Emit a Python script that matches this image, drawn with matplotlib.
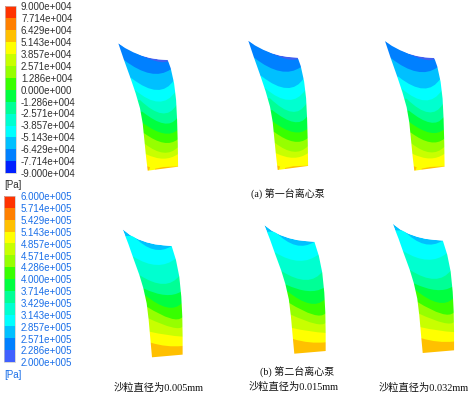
import matplotlib
matplotlib.use('Agg')
import matplotlib.pyplot as plt
from matplotlib.patches import PathPatch, Polygon, Rectangle
from matplotlib.path import Path
import numpy as np

# legend values, top to bottom
labels_a = ['9.000e+004', '7.714e+004', '6.429e+004', '5.143e+004', '3.857e+004',
            '2.571e+004', '1.286e+004', '0.000e+000', '-1.286e+004', '-2.571e+004',
            '-3.857e+004', '-5.143e+004', '-6.429e+004', '-7.714e+004', '-9.000e+004']
labels_b = ['6.000e+005', '5.714e+005', '5.429e+005', '5.143e+005', '4.857e+005',
            '4.571e+005', '4.286e+005', '4.000e+005', '3.714e+005', '3.429e+005',
            '3.143e+005', '2.857e+005', '2.571e+005', '2.286e+005', '2.000e+005']
colors_a = ['#ff3300', '#ff8000', '#ffc000', '#ffff00', '#c8ff00', '#96ff00', '#38ff00',
            '#00ff40', '#00ff96', '#00ffd0', '#00ffff', '#00c0ff', '#0080ff', '#0020ff']
colors_b = colors_a[:-1] + ['#4060ff']

# blade outlines, in zoomed crop pixels
a_outline = [(55, 40), (75, 54), (100, 67), (125, 77), (150, 84), (175, 88), (203, 90),
             (212, 115), (222, 160), (228, 210), (231, 270), (233, 340), (234, 410),
             (143, 422), (138, 380), (133, 330), (128, 280), (120, 235), (107, 190),
             (90, 140), (72, 90)]
b_outline = [(68, 28), (90, 45), (115, 58), (140, 67), (165, 73), (190, 76), (215, 78),
             (228, 120), (238, 170), (244, 230), (247, 290), (248, 350), (248, 404),
             (156, 412), (152, 368), (146, 300), (140, 250), (130, 205), (118, 165),
             (100, 115), (85, 72)]

# band boundaries: (left, middle, right) on the blade, top to bottom
a_bounds = [((55, 40), (150, 88), (203, 94)),
            ((72, 90), (150, 130), (212, 118)),
            ((95, 145), (170, 180), (222, 150)),
            ((105, 180), (175, 215), (226, 185)),
            ((120, 210), (185, 250), (229, 225)),
            ((127, 245), (190, 280), (230, 265)),
            ((130, 280), (190, 310), (232, 300)),
            ((133, 310), (190, 338), (233, 328)),
            ((135, 342), (190, 368), (233, 352)),
            ((137, 372), (190, 386), (234, 372))]
a_band_colors = ['#4060f0', '#0080ff', '#00c0ff', '#00ffff', '#00ffd0', '#00ff96',
                 '#00ff40', '#38ff00', '#96ff00', '#c8ff00', '#ffff00']
a_spots = [[(140, 408), (150, 412), (146, 423), (140, 423)],
           [(165, 416), (190, 411), (236, 409), (236, 413), (165, 420)]]

b_bounds = [((100, 48), (160, 88), (215, 78)),
            ((100, 110), (170, 135), (228, 115)),
            ((118, 165), (190, 192), (240, 165)),
            ((130, 205), (195, 225), (243, 215)),
            ((135, 225), (200, 262), (245, 250)),
            ((140, 260), (210, 295), (247, 292)),
            ((145, 295), (215, 322), (248, 320)),
            ((148, 335), (200, 345), (248, 350)),
            ((152, 368), (200, 378), (248, 378))]
b_band_colors = ['#00c0ff', '#00ffff', '#00ffd0', '#00ff96', '#00ff40', '#38ff00',
                 '#96ff00', '#c8ff00', '#ffff00', '#ffc000']

# where each blade sits: (tip, bottom left corner)
a_places = [((118.3, 43.3), (147.7, 170.7)), ((248.3, 40.7), (277.7, 170.0)),
            ((385.0, 41.0), (414.3, 170.7))]
b_places = [((122.7, 229.3), (152.0, 357.3)), ((264.3, 225.0), (294.3, 353.7)),
            ((392.7, 223.7), (422.7, 353.0))]

sizes = ['沙粒直径为0.005mm', '沙粒直径为0.015mm', '沙粒直径为0.032mm']
serif = ['Liberation Serif', 'Noto Sans CJK SC']


def draw_blade(ax, outline, bounds, band_colors, place, spots=()):
    tip, corner = place
    outline = np.array(outline, float)
    start = outline[0]
    low_pt = outline[np.argmax(outline[:, 1])]
    sx = (corner[0] - tip[0]) / (low_pt[0] - start[0])
    sy = (corner[1] - tip[1]) / (low_pt[1] - start[1])

    def tr(pts):
        pts = np.array(pts, float)
        return (pts - start) * [sx, sy] + tip

    shape = tr(outline)
    ax.add_patch(Polygon(shape, closed=True, fc=band_colors[0], ec='none', zorder=1))
    low = shape[:, 1].max() + 4
    for bound, color in zip(bounds, band_colors[1:]):
        l, m, r = tr(bound)
        ctrl = 2 * m - (l + r) / 2
        verts = [(l[0] - 12, l[1]), l, ctrl, r, (r[0] + 12, r[1]), (r[0] + 12, low),
                 (l[0] - 12, low), (l[0] - 12, l[1])]
        codes = [Path.MOVETO, Path.LINETO, Path.CURVE3, Path.CURVE3, Path.LINETO,
                 Path.LINETO, Path.LINETO, Path.CLOSEPOLY]
        ax.add_patch(PathPatch(Path(verts, codes), fc=color, ec='none', zorder=2))
    for spot in spots:
        ax.add_patch(Polygon(tr(spot), closed=True, fc='#ffc000', ec='none', zorder=3))

    # white frame with the blade as a hole, gives a smooth edge on the bands
    x0, x1 = shape[:, 0].min() - 16, shape[:, 0].max() + 16
    y0, y1 = shape[:, 1].min() - 8, shape[:, 1].max() + 8
    frame = [(x0, y0), (x1, y0), (x1, y1), (x0, y1), (x0, y0)]
    hole = list(map(tuple, shape[::-1])) + [tuple(shape[-1])]
    codes = [Path.MOVETO] + [Path.LINETO] * 3 + [Path.CLOSEPOLY]
    codes += [Path.MOVETO] + [Path.LINETO] * (len(hole) - 2) + [Path.CLOSEPOLY]
    ax.add_patch(PathPatch(Path(frame + hole, codes), fc='white', ec='none', zorder=4))


def draw_legend(ax, labels, colors, x0, x1, top, bottom, text_y0, text_y1, color, unit_y):
    edges = np.linspace(top, bottom, len(colors) + 1)
    for i, c in enumerate(colors):
        ax.add_patch(Rectangle((x0, edges[i]), x1 - x0, edges[i + 1] - edges[i], fc=c, ec='none'))
    ax.add_patch(Rectangle((x0, top), x1 - x0, bottom - top, fc='none', ec='#c8c8c8', lw=0.5))
    for lab, y in zip(labels, np.linspace(text_y0, text_y1, len(labels))):
        ax.text(21, y, lab, fontsize=7, color=color, family='Liberation Sans',
                ha='left', va='center')
    ax.text(x0, unit_y, '[Pa]', fontsize=7, color=color, family='Liberation Sans',
            ha='left', va='center')


fig = plt.figure(figsize=(4.77, 3.96), dpi=100)
ax = fig.add_axes([0, 0, 1, 1])
ax.set_xlim(0, 477)
ax.set_ylim(396, 0)
ax.axis('off')

draw_legend(ax, labels_a, colors_a, 4.7, 16.3, 6, 173.3, 7.3, 174, '#303030', 185)
draw_legend(ax, labels_b, colors_b, 4, 15.3, 196, 362, 197.3, 363.3, '#1a6fe8', 375)

for place in a_places:
    draw_blade(ax, a_outline, a_bounds, a_band_colors, place, a_spots)
for place in b_places:
    draw_blade(ax, b_outline, b_bounds, b_band_colors, place)

ax.text(287.5, 194, '(a) 第一台离心泵', fontsize=7.2, family=serif, weight='medium',
        color='#111111', ha='center', va='center', zorder=6)
ax.text(297, 372, '(b) 第二台离心泵', fontsize=7.2, family=serif, weight='medium',
        color='#111111', ha='center', va='center', zorder=6)
for x, y, s in zip([158.5, 294, 424], [388, 387, 388], sizes):
    ax.text(x, y, s, fontsize=7.4, family=serif, weight='medium', color='#111111',
            ha='center', va='center', zorder=6)

fig.savefig('out.png', dpi=100)
